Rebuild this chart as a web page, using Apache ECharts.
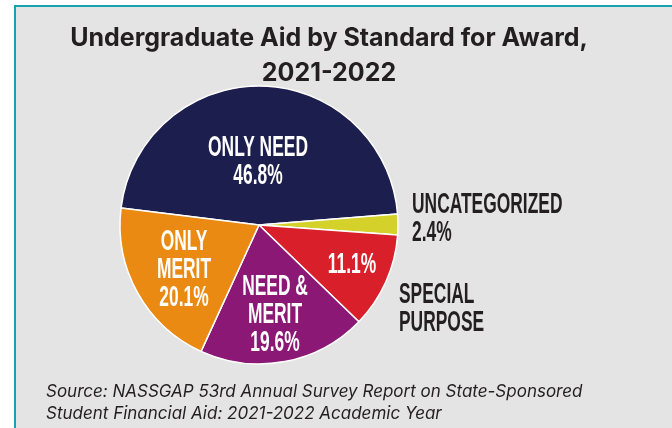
<!DOCTYPE html>
<html>
<head>
<meta charset="utf-8">
<script src="https://cdn.jsdelivr.net/npm/echarts@6/dist/echarts.min.js"></script>
<style>
html,body{margin:0;padding:0;background:#ffffff;}
#chart{width:672px;height:428px;}
</style>
</head>
<body>
<div id="chart"></div>
<script>
// ---- data ----
var categories = ["Only Need", "Uncategorized", "Special Purpose", "Need & Merit", "Only Merit"];
var values = [46.8, 2.4, 11.1, 19.6, 20.1];
var labelNames = ["ONLY NEED", "UNCATEGORIZED", "SPECIAL\nPURPOSE", "NEED &\nMERIT", "ONLY\nMERIT"];
var insideShowsName = [true, false, false, true, true];
var insideShowsValue = [true, false, true, true, true];
var outsideShowsName = [false, true, true, false, false];
var outsideShowsValue = [false, true, false, false, false];

// ---- styles ----
var colors = ["#1c1e4e", "#d4d22a", "#d81f2a", "#8c1876", "#eb8a12"];
var labelFont = "bold 29px 'Liberation Sans', Arial, sans-serif";
var insidePos = [[258, 162], null, [352, 265], [275, 315], [184, 270]];
var outsidePos = [null, [412, 219], [399, 309], null, null];

var chart = echarts.init(document.getElementById('chart'));

function pct(v) { return v.toFixed(1) + '%'; }

var pieData = categories.map(function (c, i) {
  return { name: c, value: values[i], itemStyle: { color: colors[i] } };
});

var labelGraphics = [];
categories.forEach(function (c, i) {
  var inner = [];
  if (insideShowsName[i]) inner.push(labelNames[i]);
  if (insideShowsValue[i]) inner.push(pct(values[i]));
  if (inner.length && insidePos[i]) {
    labelGraphics.push({
      type: 'text', x: insidePos[i][0], y: insidePos[i][1], scaleX: 0.6, z: 100, silent: true,
      style: { text: inner.join('\n'), font: labelFont, fill: '#ffffff', align: 'center', verticalAlign: 'middle', lineHeight: 28 }
    });
  }
  var outer = [];
  if (outsideShowsName[i]) outer.push(labelNames[i]);
  if (outsideShowsValue[i]) outer.push(pct(values[i]));
  if (outer.length && outsidePos[i]) {
    labelGraphics.push({
      type: 'text', x: outsidePos[i][0], y: outsidePos[i][1], scaleX: 0.6, z: 100, silent: true,
      style: { text: outer.join('\n'), font: labelFont, fill: '#231f20', align: 'left', verticalAlign: 'middle', lineHeight: 28 }
    });
  }
});

var option = {
  backgroundColor: '#ffffff',
  graphic: [{
    type: 'rect', z: -10, silent: true,
    shape: { x: 15, y: 6, width: 700, height: 450 },
    style: { fill: '#e4e4e4', stroke: '#17a2b1', lineWidth: 2 }
  }].concat(labelGraphics),
  title: [{
    text: 'Undergraduate Aid by Standard for Award,\n2021-2022',
    left: 324, top: 16, textAlign: 'center',
    textStyle: { fontFamily: 'Inter', fontWeight: 'bold', fontSize: 25, lineHeight: 35, color: '#231f20' }
  }, {
    text: 'Source: NASSGAP 53rd Annual Survey Report on State-Sponsored\nStudent Financial Aid: 2021-2022 Academic Year',
    left: 41, top: 376,
    textStyle: { fontFamily: 'Inter', fontStyle: 'italic', fontWeight: 'normal', fontSize: 17, lineHeight: 22, color: '#231f20' }
  }],
  series: [{
    type: 'pie',
    center: [259, 225],
    radius: 139,
    startAngle: 173,
    clockwise: true,
    silent: true,
    animation: false,
    itemStyle: { borderColor: '#ffffff', borderWidth: 1.5 },
    label: { show: false },
    labelLine: { show: false },
    data: pieData
  }]
};
chart.setOption(option);
</script>
</body>
</html>
